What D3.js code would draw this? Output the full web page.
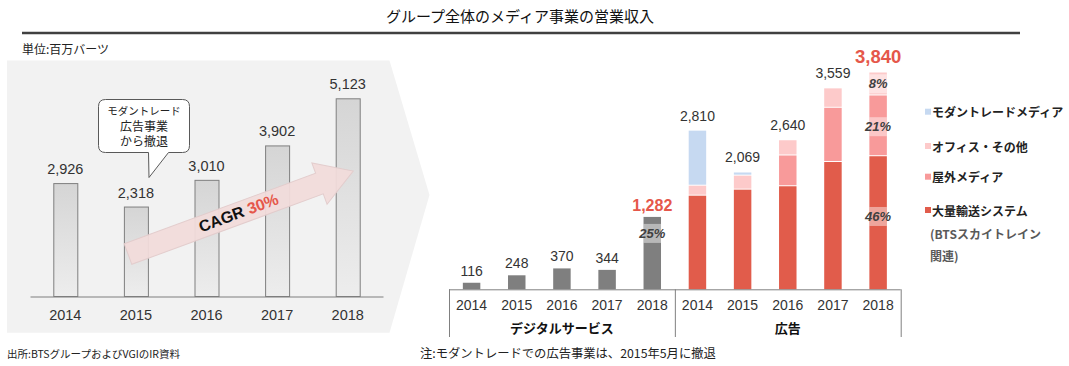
<!DOCTYPE html>
<html><head><meta charset="utf-8">
<script src="https://cdn.jsdelivr.net/npm/d3@7"></script>
<style>
body{margin:0;background:#fff;}
svg{display:block;}
</style></head><body><svg id="c" width="1069" height="366"></svg>
<script>
// ---- data ----
const years = ["2014","2015","2016","2017","2018"];
const groupTotal = [2926, 2318, 3010, 3902, 5123];
const digital = [116, 248, 370, 344, 1282];
const adTransit = [1658, 1765, 1825, 2255, 2357];
const adOutdoor = [0, 0, 545, 960, 1076];
const adOffice = [177, 248, 270, 344, 407];
const adModernTrade = [975, 56, 0, 0, 0];
const adTotal = [2810, 2069, 2640, 3559, 3840];
const groupNames = ["デジタルサービス", "広告"];
const seriesNames = ["モダントレードメディア", "オフィス・その他", "屋外メディア", "大量輸送システム"];
const seriesNote = ["(BTSスカイトレイン", "関連)"];
const shareLabels = ["25%", "46%", "21%", "8%"];
const shareAt = [990, 1290, 2880, 3640];   // value positions (data space) of share labels
const titleText = "グループ全体のメディア事業の営業収入";
const unitText = "単位:百万バーツ";
const sourceText = "出所:BTSグループおよびVGIのIR資料";
const noteText = "注:モダントレードでの広告事業は、2015年5月に撤退";
const calloutLines = ["モダントレード", "広告事業", "から撤退"];
const cagrText = ["CAGR ", "30%"];

const JP = '"Noto Sans CJK JP","Noto Sans",sans-serif';
const NUM = '"Liberation Sans",Arial,sans-serif';
const colors = {blue:"#c6d9f1", office:"#fdcaca", outdoor:"#f89a9a", transit:"#e15c4b", gray:"#7f7f7f", red:"#e5574a"};

const svg = d3.select("#c");

// title + rule
svg.append("text").attr("x", 520).attr("y", 15).attr("text-anchor","middle").attr("dominant-baseline","central")
  .style("font-family", JP).style("font-size","15px").attr("fill","#111").text(titleText);
svg.append("line").attr("x1",22).attr("x2",1020).attr("y1",33).attr("y2",33).attr("stroke","#404040").attr("stroke-width",2.5);
svg.append("text").attr("x",22).attr("y",48).attr("dominant-baseline","central")
  .style("font-family", JP).style("font-size","12px").attr("fill","#222").text(unitText);

// ---- left panel ----
svg.append("polygon").attr("points","7,60.5 389.5,60.5 429.5,195 389.5,332.7 7,332.7").attr("fill","#f2f2f2");

const defs = svg.append("defs");
const grad = defs.append("linearGradient").attr("id","barGrad").attr("x1",0).attr("x2",0).attr("y1",0).attr("y2",1);
grad.append("stop").attr("offset","0%").attr("stop-color","#d5d5d5");
grad.append("stop").attr("offset","100%").attr("stop-color","#ededed");

const xL = d3.scaleBand().domain(years).range([30, 383]).paddingInner(0.66).paddingOuter(0.33);
const yL = d3.scaleLinear().domain([0, 5123]).range([296, 98.3]);

const gL = svg.append("g");
gL.selectAll("rect").data(years).join("rect")
  .attr("x", d => xL(d) + 0.5).attr("width", xL.bandwidth())
  .attr("y", (d,i) => yL(groupTotal[i]) + 0.5).attr("height", (d,i) => yL(0) - yL(groupTotal[i]))
  .attr("fill","url(#barGrad)").attr("stroke","#7f7f7f").attr("stroke-width",1);

const axL = svg.append("g").attr("transform","translate(0,296.5)").call(d3.axisBottom(xL).tickSize(0).tickPadding(0));
axL.select(".domain").attr("stroke","#7f7f7f");
axL.selectAll("text").attr("dy",null).attr("y", 18).attr("dominant-baseline","central")
  .style("font-family", NUM).style("font-size","14.5px").attr("fill","#333");

gL.selectAll("text.v").data(years).join("text").attr("class","v")
  .attr("x", d => xL(d) + xL.bandwidth()/2).attr("y", (d,i) => yL(groupTotal[i]) - 9)
  .attr("text-anchor","middle").style("font-family", NUM).style("font-size","14.5px").attr("fill","#333")
  .text((d,i) => d3.format(",")(groupTotal[i]));

// CAGR arrow
const arr = svg.append("g").attr("transform","translate(128,254) rotate(-20.2)");
const L = 240, H = 36;
arr.append("polygon")
  .attr("points", `0,-11 ${L-H},-11 ${L-H},-22 ${L},0 ${L-H},22 ${L-H},11 0,11`)
  .attr("fill","#f2dcdb").attr("stroke","#e3cccc").attr("stroke-width",1).attr("opacity",0.95);
const ct = arr.append("text").attr("x",118).attr("y",5).attr("text-anchor","middle")
  .style("font-family", NUM).style("font-size","16px").style("font-weight","bold");
ct.append("tspan").attr("fill","#111").text(cagrText[0]);
ct.append("tspan").attr("fill",colors.red).text(cagrText[1]);

// callout
{
  const x0=98.5,y0=99.5,x1=189.5,y1=152.5,r=7;
  svg.append("path").attr("d",
    `M${x0+r},${y0} H${x1-r} Q${x1},${y0} ${x1},${y0+r} V${y1-r} Q${x1},${y1} ${x1-r},${y1} H168.5 L149,177.5 L148.5,${y1} H${x0+r} Q${x0},${y1} ${x0},${y1-r} V${y0+r} Q${x0},${y0} ${x0+r},${y0} Z`)
    .attr("fill","#fff").attr("stroke","#595959").attr("stroke-width",1);
  const cy = [110.5, 125, 140];
  const cs = [10.5, 12, 12];
  calloutLines.forEach((t,i) => svg.append("text").attr("x",144).attr("y",cy[i]).attr("text-anchor","middle")
    .attr("dominant-baseline","central").style("font-family", JP).style("font-size", cs[i]+"px").attr("fill","#222").text(t));
}

// ---- right panel ----
const keys = years.map(y => "d"+y).concat(years.map(y => "a"+y));
const xR = d3.scaleBand().domain(keys).range([449, 900.7]).paddingInner(0.613).paddingOuter(0.3065);
const yR = d3.scaleLinear().domain([0, 3840]).range([289.3, 72.5]);
const gR = svg.append("g");

// digital bars
gR.selectAll("rect.d").data(years).join("rect").attr("class","d")
  .attr("x", d => xR("d"+d)).attr("width", xR.bandwidth())
  .attr("y", (d,i) => yR(digital[i])).attr("height", (d,i) => yR(0) - yR(digital[i]))
  .attr("fill", colors.gray);

// stacked ads
const adRows = years.map((y,i) => ({year:y, transit:adTransit[i], outdoor:adOutdoor[i], office:adOffice[i], mt:adModernTrade[i]}));
const stack = d3.stack().keys(["transit","outdoor","office","mt"])(adRows);
const segColor = {transit:colors.transit, outdoor:colors.outdoor, office:colors.office, mt:colors.blue};
stack.forEach((layer, li) => {
  gR.selectAll("rect.s"+li).data(layer).join("rect").attr("class","s"+li)
    .attr("x", d => xR("a"+d.data.year)).attr("width", xR.bandwidth())
    .attr("y", d => yR(d[1]))
    .attr("height", d => { const h = yR(d[0]) - yR(d[1]); return li === 0 ? h : Math.max(0, h - 1); })
    .attr("fill", segColor[layer.key]);
});

// axis + separators
const x0R = xR.range()[0], x1R = xR.range()[1], xMid = x0R + 5*xR.step();
gR.append("line").attr("x1",x0R).attr("x2",x1R).attr("y1",289.8).attr("y2",289.8).attr("stroke","#808080");
[x0R, xMid, x1R].forEach(x => gR.append("line").attr("x1",x+0.5).attr("x2",x+0.5).attr("y1",289.3).attr("y2",337).attr("stroke","#808080"));
gR.selectAll("text.yr").data(keys).join("text").attr("class","yr")
  .attr("x", d => xR(d) + xR.bandwidth()/2).attr("y", 305).attr("text-anchor","middle").attr("dominant-baseline","central")
  .style("font-family", NUM).style("font-size","14px").attr("fill","#333").text(d => d.slice(1));
groupNames.forEach((g,i) => gR.append("text")
  .attr("x", i===0 ? (x0R+xMid)/2 : (xMid+x1R)/2).attr("y", 327).attr("text-anchor","middle").attr("dominant-baseline","central")
  .style("font-family", JP).style("font-size","13px").style("font-weight","bold").attr("fill","#111").text(g));

// value labels
gR.selectAll("text.dv").data(years).join("text").attr("class","dv")
  .attr("x", d => xR("d"+d) + xR.bandwidth()/2)
  .attr("y", (d,i) => yR(digital[i]) - (i===4 ? 6 : 7))
  .attr("text-anchor","middle").style("font-family", NUM)
  .style("font-size", (d,i) => i===4 ? "16px" : "14px").style("font-weight", (d,i) => i===4 ? "bold" : "normal")
  .attr("fill", (d,i) => i===4 ? colors.red : "#333")
  .text((d,i) => d3.format(",")(digital[i]));
gR.selectAll("text.av").data(years).join("text").attr("class","av")
  .attr("x", d => xR("a"+d) + xR.bandwidth()/2)
  .attr("y", (d,i) => yR(adTotal[i]) - 10)
  .attr("text-anchor","middle").style("font-family", NUM)
  .style("font-size", (d,i) => i===4 ? "18.5px" : "14px").style("font-weight", (d,i) => i===4 ? "bold" : "normal")
  .attr("fill", (d,i) => i===4 ? colors.red : "#333")
  .text((d,i) => d3.format(",")(adTotal[i]));

// share labels on 2018 bars
const shareKeys = ["d2018","a2018","a2018","a2018"];
shareLabels.forEach((t,i) => {
  const cx = xR(shareKeys[i]), cyv = yR(shareAt[i]);
  gR.append("rect").attr("x", cx).attr("width", xR.bandwidth()).attr("y", cyv - 9.5).attr("height", 19)
    .attr("fill","#fff").attr("opacity", 0.45);
  gR.append("text").attr("x", cx + xR.bandwidth()/2).attr("y", cyv).attr("text-anchor","middle").attr("dominant-baseline","central")
    .style("font-family", NUM).style("font-size","13px").style("font-weight","bold").style("font-style","italic")
    .attr("fill","#404040").text(t);
});

// legend
const legColors = [colors.blue, colors.office, colors.outdoor, colors.transit];
const legY = [111.7, 146, 176.7, 210];
seriesNames.forEach((n,i) => {
  svg.append("rect").attr("x",925).attr("y",legY[i]-3).attr("width",6).attr("height",6).attr("fill",legColors[i]);
  svg.append("text").attr("x",932).attr("y",legY[i]).attr("dominant-baseline","central")
    .style("font-family", JP).style("font-size","12px").style("font-weight","bold").attr("fill","#222").text(n);
});
seriesNote.forEach((n,i) => svg.append("text").attr("x",930).attr("y",[233.3,255][i]).attr("dominant-baseline","central")
  .style("font-family", JP).style("font-size","12px").style("font-weight","bold").attr("fill","#595959").text(n));

// footers
svg.append("text").attr("x",7).attr("y",353).attr("dominant-baseline","central")
  .style("font-family", JP).style("font-size","10.5px").attr("fill","#222").text(sourceText);
svg.append("text").attr("x",420).attr("y",353).attr("dominant-baseline","central")
  .style("font-family", JP).style("font-size","12.3px").attr("fill","#222").text(noteText);
</script></body></html>
